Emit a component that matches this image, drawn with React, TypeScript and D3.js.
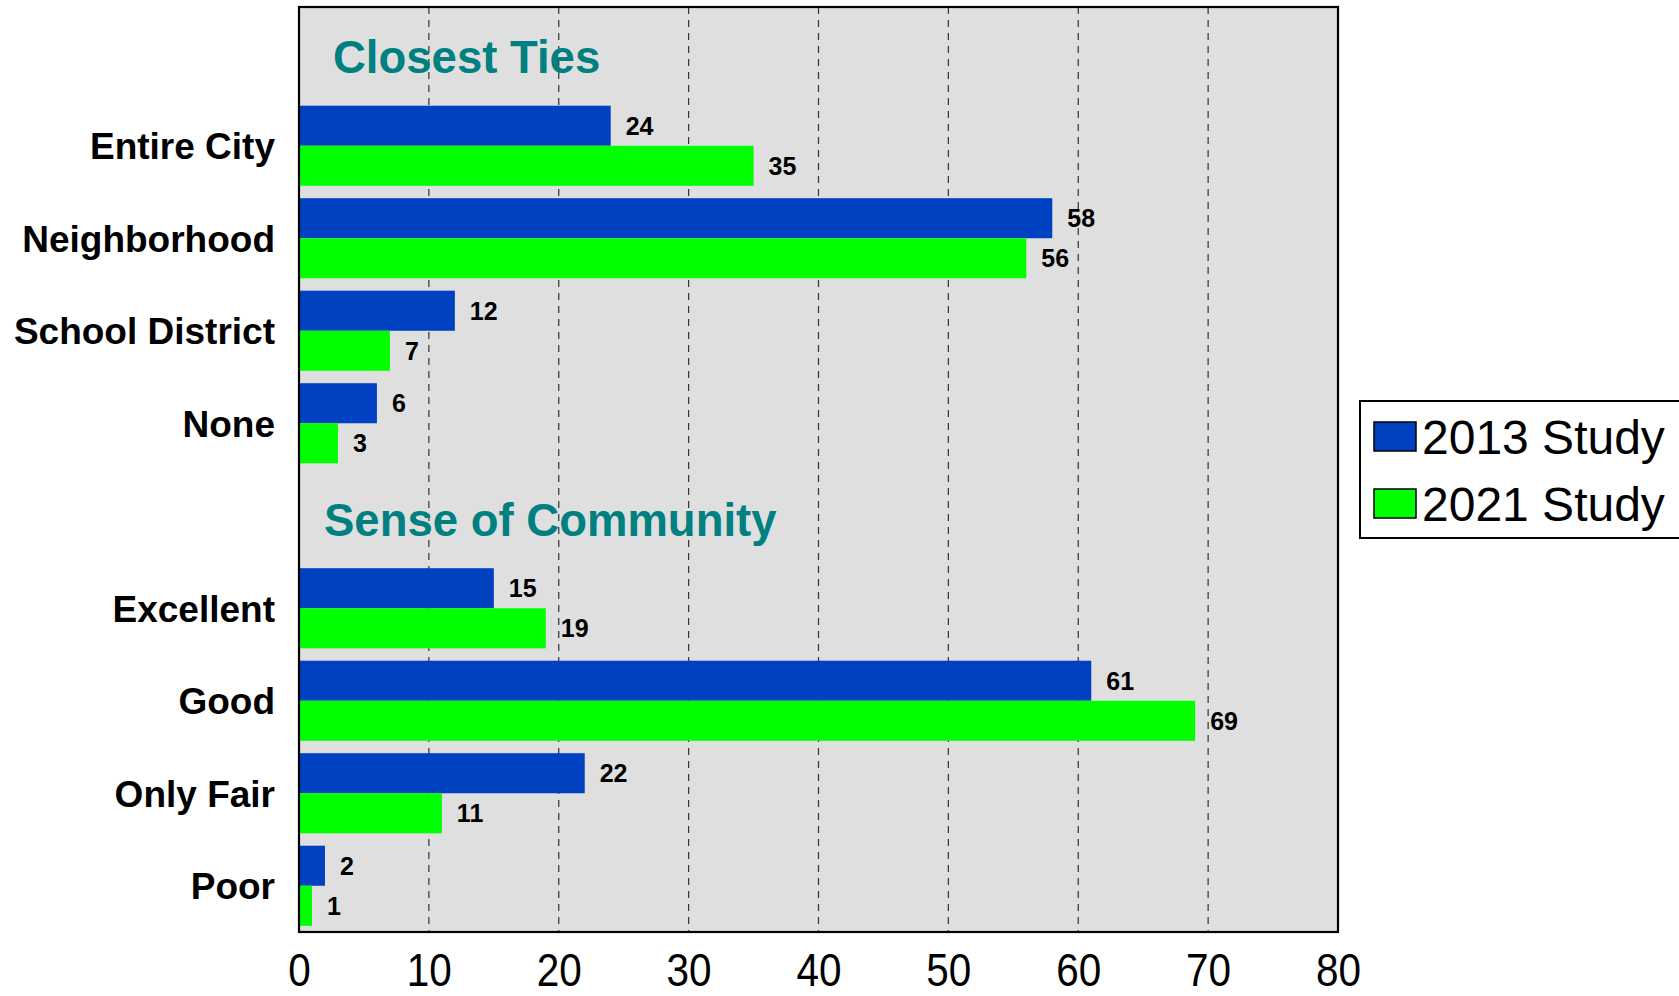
import React, { useEffect, useRef } from "react";
import * as d3 from "d3";

// categories, two sections with a heading row each
const sectionTitles = ["Closest Ties", "Sense of Community"];
const closestTiesLabels = ["Entire City", "Neighborhood", "School District", "None"];
const communityLabels = ["Excellent", "Good", "Only Fair", "Poor"];

// series values (same order as the labels above)
const study2013 = [24, 58, 12, 6, 15, 61, 22, 2];
const study2021 = [35, 56, 7, 3, 19, 69, 11, 1];

const seriesNames = ["2013 Study", "2021 Study"];
const seriesColors = ["#0041C2", "#00FF00"];

const xTicks = [0, 10, 20, 30, 40, 50, 60, 70, 80];

const width = 1679;
const height = 996;
const margin = { top: 7, right: 341, bottom: 64, left: 299 };

const App: React.FC = () => {
  const svgRef = useRef<SVGSVGElement>(null);

  useEffect(() => {
    if (!svgRef.current) return;
    const svg = d3.select(svgRef.current);
    svg.selectAll("*").remove();

    const innerWidth = width - margin.left - margin.right;
    const innerHeight = height - margin.top - margin.bottom;

    const labels = [...closestTiesLabels, ...communityLabels];
    const rows = [
      "#" + sectionTitles[0],
      ...closestTiesLabels,
      "#" + sectionTitles[1],
      ...communityLabels,
    ];

    const x = d3.scaleLinear().domain([0, 80]).range([0, innerWidth]);
    const y = d3
      .scaleBand<string>()
      .domain(rows)
      .range([0, innerHeight])
      .paddingInner(0.134)
      .paddingOuter(0.067);
    const sub = d3
      .scaleBand<string>()
      .domain(seriesNames)
      .range([0, y.bandwidth()]);

    const g = svg
      .append("g")
      .attr("transform", `translate(${margin.left},${margin.top})`);

    // plot background
    g.append("rect")
      .attr("width", innerWidth)
      .attr("height", innerHeight)
      .attr("fill", "#DFDFDF");

    // dashed grid
    g.append("g")
      .selectAll("line")
      .data(xTicks.slice(1, -1))
      .enter()
      .append("line")
      .attr("x1", (d) => x(d))
      .attr("x2", (d) => x(d))
      .attr("y1", 0)
      .attr("y2", innerHeight)
      .attr("stroke", "#333")
      .attr("stroke-width", 1.2)
      .attr("stroke-dasharray", "7,6");

    // section headings
    const headingX = [34, 25];
    sectionTitles.forEach((t, i) => {
      g.append("text")
        .attr("x", headingX[i])
        .attr("y", (y("#" + t) || 0) + y.bandwidth() / 2 + 20)
        .attr("fill", "#008080")
        .attr("font-family", "'Liberation Sans', Arial, sans-serif")
        .attr("font-weight", "bold")
        .attr("font-size", 45.5)
        .text(t);
    });

    // bars
    const series = [study2013, study2021];
    series.forEach((vals, si) => {
      const bars = g.append("g");
      bars
        .selectAll("rect")
        .data(vals)
        .enter()
        .append("rect")
        .attr("x", 0)
        .attr("y", (d, i) => (y(labels[i]) || 0) + (sub(seriesNames[si]) || 0))
        .attr("width", (d) => x(d))
        .attr("height", sub.bandwidth())
        .attr("fill", seriesColors[si]);

      bars
        .selectAll("text")
        .data(vals)
        .enter()
        .append("text")
        .attr("x", (d) => x(d) + 15)
        .attr(
          "y",
          (d, i) =>
            (y(labels[i]) || 0) +
            (sub(seriesNames[si]) || 0) +
            sub.bandwidth() / 2
        )
        .attr("dy", "0.36em")
        .attr("font-family", "'Liberation Sans', Arial, sans-serif")
        .attr("font-weight", "bold")
        .attr("font-size", 25)
        .attr("fill", "#000")
        .text((d) => d);
    });

    // category labels
    g.append("g")
      .selectAll("text")
      .data(labels)
      .enter()
      .append("text")
      .attr("x", -24)
      .attr("y", (d) => (y(d) || 0) + y.bandwidth() / 2)
      .attr("dy", "0.36em")
      .attr("text-anchor", "end")
      .attr("font-family", "'Liberation Sans', Arial, sans-serif")
      .attr("font-weight", "bold")
      .attr("font-size", 37)
      .attr("fill", "#000")
      .text((d) => d);

    // x axis
    const xAxis = g
      .append("g")
      .attr("transform", `translate(0,${innerHeight})`)
      .call(d3.axisBottom(x).tickValues(xTicks).tickSize(0).tickPadding(0));
    xAxis.select(".domain").remove();
    xAxis
      .selectAll("text")
      .attr("y", 54)
      .attr("dy", 0)
      .attr("font-family", "'Liberation Sans', Arial, sans-serif")
      .attr("font-size", 46)
      .attr("transform", "scale(0.88,1)")
      .attr("fill", "#000");

    // plot frame
    g.append("rect")
      .attr("width", innerWidth)
      .attr("height", innerHeight)
      .attr("fill", "none")
      .attr("stroke", "#000")
      .attr("stroke-width", 2.2);

    // legend
    const legend = svg.append("g").attr("transform", "translate(1360,401)");
    legend
      .append("rect")
      .attr("width", 330)
      .attr("height", 137)
      .attr("fill", "#fff")
      .attr("stroke", "#000")
      .attr("stroke-width", 2);
    seriesNames.forEach((name, i) => {
      const item = legend
        .append("g")
        .attr("transform", `translate(14,${21 + i * 67})`);
      item
        .append("rect")
        .attr("width", 42)
        .attr("height", 29)
        .attr("fill", seriesColors[i])
        .attr("stroke", "#000")
        .attr("stroke-width", 1.5);
      item
        .append("text")
        .attr("x", 48)
        .attr("y", 14.5)
        .attr("dy", "0.36em")
        .attr("font-family", "'Liberation Sans', Arial, sans-serif")
        .attr("font-size", 48)
        .attr("fill", "#000")
        .text(name);
    });
  }, []);

  return (
    <svg
      ref={svgRef}
      width={width}
      height={height}
      style={{ position: "absolute", left: 0, top: 0, display: "block" }}
    />
  );
};

export default App;
